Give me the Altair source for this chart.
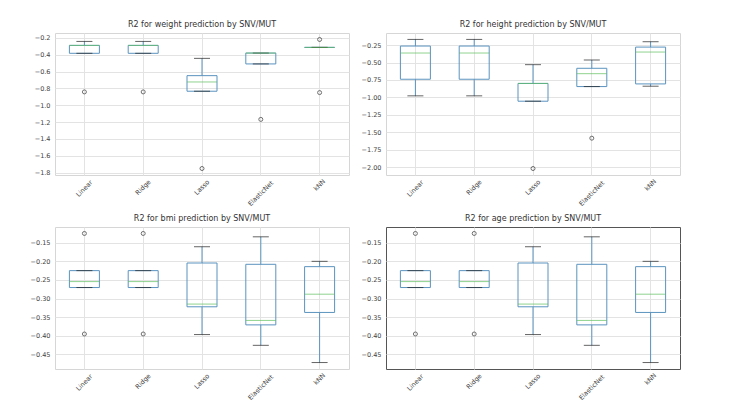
import altair as alt
import pandas as pd

models = ["Linear", "Ridge", "Lasso", "ElasticNet", "kNN"]

# weight panel
w_lo = [-0.384, -0.384, -0.834, -0.51, -0.314]
w_q1 = [-0.384, -0.384, -0.834, -0.51, -0.314]
w_med = [-0.29, -0.29, -0.724, -0.381, -0.314]
w_q3 = [-0.29, -0.29, -0.649, -0.381, -0.314]
w_hi = [-0.243, -0.243, -0.444, -0.381, -0.314]
w_out_models = ["Linear", "Ridge", "Lasso", "ElasticNet", "kNN", "kNN"]
w_out_vals = [-0.842, -0.842, -1.751, -1.168, -0.22, -0.85]
w_ticks = [-0.2, -0.4, -0.6, -0.8, -1.0, -1.2, -1.4, -1.6, -1.8]

# height panel
h_lo = [-0.978, -0.978, -1.055, -0.845, -0.84]
h_q1 = [-0.74, -0.74, -1.055, -0.845, -0.807]
h_med = [-0.364, -0.364, -0.80, -0.66, -0.35]
h_q3 = [-0.264, -0.264, -0.80, -0.583, -0.279]
h_hi = [-0.169, -0.169, -0.531, -0.464, -0.202]
h_out_models = ["Lasso", "ElasticNet"]
h_out_vals = [-2.02, -1.585]
h_ticks = [-0.25, -0.5, -0.75, -1.0, -1.25, -1.5, -1.75, -2.0]

# bmi panel
b_lo = [-0.2705, -0.2705, -0.397, -0.426, -0.4723]
b_q1 = [-0.2705, -0.2705, -0.3223, -0.371, -0.3375]
b_med = [-0.2545, -0.2545, -0.315, -0.359, -0.2884]
b_q3 = [-0.225, -0.225, -0.2045, -0.208, -0.2143]
b_hi = [-0.225, -0.225, -0.1607, -0.134, -0.20]
b_out_models = ["Linear", "Linear", "Ridge", "Ridge"]
b_out_vals = [-0.125, -0.3955, -0.125, -0.3955]
b_ticks = [-0.15, -0.2, -0.25, -0.3, -0.35, -0.4, -0.45]

# age panel
a_lo = [-0.2705, -0.2705, -0.397, -0.426, -0.4723]
a_q1 = [-0.2705, -0.2705, -0.3223, -0.371, -0.3375]
a_med = [-0.2545, -0.2545, -0.315, -0.359, -0.2884]
a_q3 = [-0.225, -0.225, -0.2045, -0.208, -0.2143]
a_hi = [-0.225, -0.225, -0.1607, -0.134, -0.20]
a_out_models = ["Linear", "Linear", "Ridge", "Ridge"]
a_out_vals = [-0.125, -0.3955, -0.125, -0.3955]

BOX = "#5b93bf"
MED = "#5fbf5f"
CAP = "#222222"
FONT = "DejaVu Sans"
W, H = 294, 142


def panel(title, lo, q1, med, q3, hi, out_m, out_v, domain, ticks, fmt, stroke):
    df = pd.DataFrame({"model": models, "lo": lo, "q1": q1, "med": med, "q3": q3, "hi": hi})
    od = pd.DataFrame({"model": out_m, "value": out_v})
    xenc = alt.X(
        "model:N", sort=models, title=None,
        scale=alt.Scale(paddingInner=0, paddingOuter=0),
        axis=alt.Axis(
            labelAngle=-45, labelAlign="center", labelBaseline="middle",
            labelPadding=alt.ExprRef("6 + length(datum.label) * 1.2"),
            tickSize=0, domain=False, grid=True, labelFontSize=6.5,
            minExtent=35, maxExtent=35,
        ),
    )
    yscale = alt.Scale(domain=domain, nice=False, zero=False)

    def Y(f):
        return alt.Y(
            f + ":Q", scale=yscale, title=None,
            axis=alt.Axis(values=ticks, format=fmt, tickSize=0, labelPadding=5,
                          domain=False, grid=True, labelFontSize=6.5,
                          minExtent=30, maxExtent=30),
        )

    base = alt.Chart(df).encode(x=xenc)
    box = base.mark_bar(size=30, fillOpacity=0, stroke=BOX, strokeWidth=1).encode(y=Y("q1"), y2="q3")
    wl = base.mark_rule(color=BOX, strokeWidth=1).encode(y=Y("lo"), y2="q1")
    wh = base.mark_rule(color=BOX, strokeWidth=1).encode(y=Y("q3"), y2="hi")
    cl = base.mark_tick(size=16, thickness=1, color=CAP).encode(y=Y("lo"))
    ch = base.mark_tick(size=16, thickness=1, color=CAP).encode(y=Y("hi"))
    md = base.mark_tick(size=30, thickness=1, color=MED).encode(y=Y("med"))
    pts = alt.Chart(od).mark_point(shape="circle", filled=False, color="#333333",
                                   size=16, strokeWidth=1).encode(x=xenc, y=Y("value"))
    return alt.layer(box, wl, wh, cl, ch, md, pts).properties(
        width=W, height=H,
        title=alt.TitleParams(title, fontSize=8, font=FONT, fontWeight="normal",
                              color="#333333", offset=4),
        view=alt.ViewBackground(stroke=stroke),
    )


p1 = panel("R2 for weight prediction by SNV/MUT", w_lo, w_q1, w_med, w_q3, w_hi,
           w_out_models, w_out_vals, [-1.828, -0.143], w_ticks, ".1f", "#d6d6d6")
p2 = panel("R2 for height prediction by SNV/MUT", h_lo, h_q1, h_med, h_q3, h_hi,
           h_out_models, h_out_vals, [-2.113, -0.077], h_ticks, ".2f", "#d6d6d6")
p3 = panel("R2 for bmi prediction by SNV/MUT", b_lo, b_q1, b_med, b_q3, b_hi,
           b_out_models, b_out_vals, [-0.4897, -0.1076], b_ticks, ".2f", "#d6d6d6")
p4 = panel("R2 for age prediction by SNV/MUT", a_lo, a_q1, a_med, a_q3, a_hi,
           a_out_models, a_out_vals, [-0.4897, -0.1076], b_ticks, ".2f", "#555555")

chart = alt.vconcat(
    alt.hconcat(p1, p2, spacing=5),
    alt.hconcat(p3, p4, spacing=5),
    spacing=3,
).properties(
    padding={"left": 24, "top": 20, "right": 5, "bottom": 5},
    background="white",
).configure_axis(
    labelFont=FONT, labelColor="#444444", gridColor="#e3e3e3", gridWidth=1,
).configure_view(stroke="#d6d6d6")

chart.save("out.html", embed_options={"renderer": "svg", "actions": False})
